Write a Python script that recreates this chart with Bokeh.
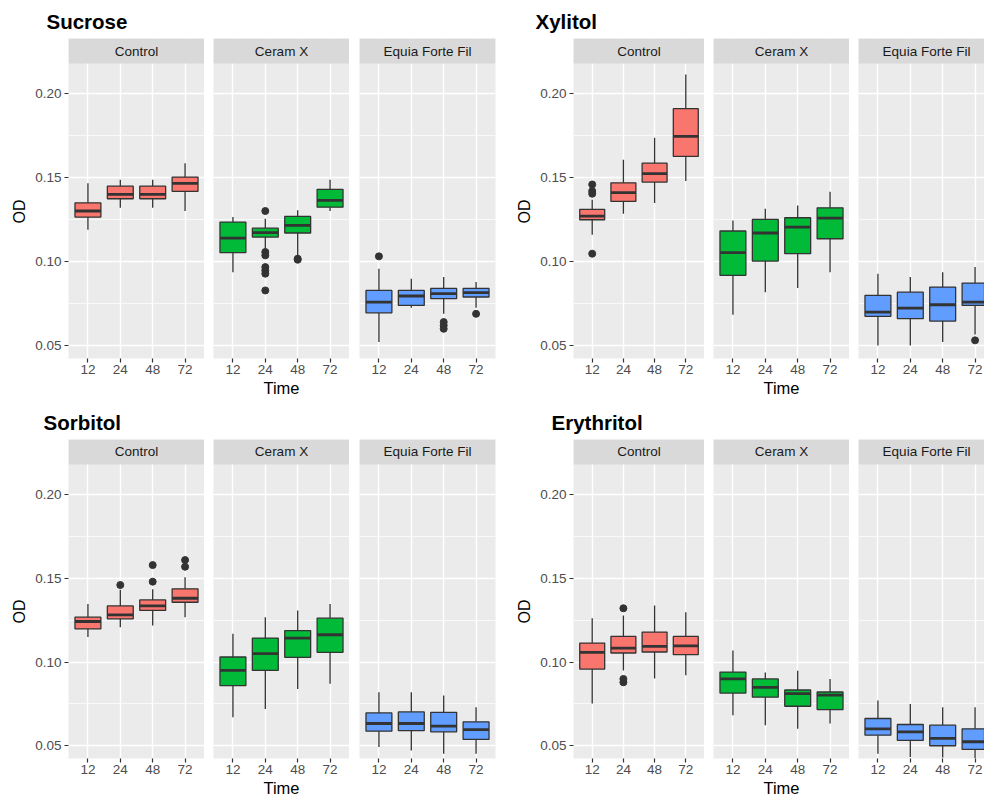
import math
from bokeh.plotting import figure
from bokeh.layouts import row, column
from bokeh.models import Range1d, FixedTicker, Label, NumeralTickFormatter, Title
from bokeh.embed import file_html
from bokeh.resources import INLINE

# ---------------- data ----------------
times = ["12", "24", "48", "72"]
materials = ["Control", "Ceram X", "Equia Forte Fil"]
material_colors = ["#F8766D", "#00BA38", "#619CFF"]
y_ticks = [0.05, 0.10, 0.15, 0.20]
y_minor_ticks = [0.075, 0.125, 0.175]
sugars = ["Sucrose", "Xylitol", "Sorbitol", "Erythritol"]

# box statistics, material-major order: Control x4, Ceram X x4, Equia Forte Fil x4
sucrose_lower = [0.1190, 0.1321, 0.1321, 0.1302, 0.0938, 0.1077, 0.1028, 0.1302, 0.0522, 0.0726, 0.0690, 0.0726]
sucrose_q1 = [0.1266, 0.1375, 0.1375, 0.1419, 0.1054, 0.1147, 0.1171, 0.1325, 0.0696, 0.0740, 0.0780, 0.0790]
sucrose_median = [0.1302, 0.1401, 0.1401, 0.1466, 0.1141, 0.1173, 0.1216, 0.1365, 0.0760, 0.0796, 0.0810, 0.0816]
sucrose_q3 = [0.1351, 0.1450, 0.1450, 0.1504, 0.1236, 0.1200, 0.1270, 0.1431, 0.0829, 0.0829, 0.0841, 0.0841]
sucrose_upper = [0.1468, 0.1488, 0.1488, 0.1587, 0.1266, 0.1256, 0.1306, 0.1488, 0.0958, 0.0899, 0.0909, 0.0879]
sucrose_out_material = [1, 1, 1, 1, 1, 1, 1, 1, 1, 2, 2, 2, 2, 2]
sucrose_out_time = [1, 1, 1, 1, 1, 1, 1, 2, 2, 0, 2, 2, 2, 3]
sucrose_out_value = [0.1302, 0.1058, 0.1038, 0.0968, 0.0948, 0.0929, 0.0829, 0.1018, 0.1012, 0.1032, 0.0641, 0.0621, 0.0601, 0.0690]

xylitol_lower = [0.1161, 0.1286, 0.1349, 0.1480, 0.0685, 0.0819, 0.0843, 0.0938, 0.0502, 0.0502, 0.0522, 0.0567]
xylitol_q1 = [0.1250, 0.1359, 0.1474, 0.1627, 0.0919, 0.1004, 0.1048, 0.1137, 0.0675, 0.0661, 0.0647, 0.0740]
xylitol_median = [0.1272, 0.1411, 0.1524, 0.1746, 0.1054, 0.1171, 0.1206, 0.1260, 0.0700, 0.0724, 0.0744, 0.0760]
xylitol_q3 = [0.1312, 0.1470, 0.1587, 0.1911, 0.1183, 0.1252, 0.1262, 0.1321, 0.0800, 0.0819, 0.0849, 0.0873]
xylitol_upper = [0.1369, 0.1607, 0.1738, 0.2115, 0.1246, 0.1315, 0.1335, 0.1417, 0.0929, 0.0909, 0.0938, 0.0968]
xylitol_out_material = [0, 0, 0, 0, 2]
xylitol_out_time = [0, 0, 0, 0, 3]
xylitol_out_value = [0.1460, 0.1421, 0.1405, 0.1048, 0.0532]

sorbitol_lower = [0.1149, 0.1208, 0.1218, 0.1268, 0.0671, 0.0720, 0.0839, 0.0871, 0.0492, 0.0472, 0.0452, 0.0452]
sorbitol_q1 = [0.1198, 0.1258, 0.1308, 0.1357, 0.0859, 0.0950, 0.1028, 0.1058, 0.0587, 0.0591, 0.0583, 0.0538]
sorbitol_median = [0.1242, 0.1282, 0.1335, 0.1381, 0.0950, 0.1050, 0.1143, 0.1163, 0.0633, 0.0633, 0.0617, 0.0597]
sorbitol_q3 = [0.1268, 0.1335, 0.1371, 0.1437, 0.1030, 0.1143, 0.1188, 0.1262, 0.0696, 0.0702, 0.0700, 0.0643]
sorbitol_upper = [0.1347, 0.1431, 0.1435, 0.1506, 0.1169, 0.1268, 0.1308, 0.1347, 0.0819, 0.0819, 0.0800, 0.0730]
sorbitol_out_material = [0, 0, 0, 0, 0]
sorbitol_out_time = [1, 2, 2, 3, 3]
sorbitol_out_value = [0.1460, 0.1579, 0.1480, 0.1609, 0.1569]

erythritol_lower = [0.0752, 0.0950, 0.0901, 0.0921, 0.0683, 0.0623, 0.0601, 0.0633, 0.0452, 0.0433, 0.0430, 0.0425]
erythritol_q1 = [0.0958, 0.1054, 0.1060, 0.1044, 0.0815, 0.0790, 0.0736, 0.0716, 0.0563, 0.0532, 0.0500, 0.0478]
erythritol_median = [0.1058, 0.1083, 0.1093, 0.1097, 0.0899, 0.0849, 0.0812, 0.0802, 0.0601, 0.0583, 0.0544, 0.0524]
erythritol_q3 = [0.1113, 0.1153, 0.1179, 0.1153, 0.0940, 0.0899, 0.0833, 0.0821, 0.0663, 0.0627, 0.0623, 0.0601]
erythritol_upper = [0.1262, 0.1278, 0.1337, 0.1298, 0.1069, 0.0938, 0.0948, 0.0899, 0.0770, 0.0750, 0.0730, 0.0730]
erythritol_out_material = [0, 0, 0]
erythritol_out_time = [1, 1, 1]
erythritol_out_value = [0.1321, 0.0899, 0.0879]

# ---------------- style / layout ----------------
FONT = "Liberation Sans"
PANEL_BG = "#EBEBEB"
STRIP_BG = "#D9D9D9"
DARK = "#333333"
Y_START, Y_PANEL_END, Y_END = 0.0424, 0.2180, 0.2329
X_START, X_SPAN, FULL_W = 0.4, 4.2, 136
FRAME_H = 320
BOX_W = 0.8
SMALL = "13.5px"


def facet(stats, outs, mi, left, right, frame_w, top, bottom, title=None, title_offset=0, middle=False):
    lower, q1, med, q3, upper = stats
    out_m, out_t, out_v = outs
    x_end = X_START + X_SPAN * frame_w / FULL_W
    p = figure(width=left + frame_w + right, height=top + FRAME_H + bottom,
               x_range=Range1d(X_START, x_end), y_range=Range1d(Y_START, Y_END),
               output_backend="svg", toolbar_location=None,
               min_border_left=left, min_border_right=right,
               min_border_top=top, min_border_bottom=bottom,
               background_fill_color=PANEL_BG, border_fill_color="white",
               outline_line_color=None)
    sl = slice(mi * 4, mi * 4 + 4)
    xs = [i + 1 for i in range(len(times))]
    lo, a, m, b, hi = lower[sl], q1[sl], med[sl], q3[sl], upper[sl]
    color = material_colors[mi]

    # strip
    p.quad(left=X_START, right=x_end, bottom=Y_PANEL_END, top=Y_END,
           fill_color=STRIP_BG, line_color=None)
    p.add_layout(Label(x=X_START + X_SPAN / 2, y=(Y_PANEL_END + Y_END) / 2,
                       text=materials[mi], text_align="center", text_baseline="middle",
                       text_font=FONT, text_font_size=SMALL, text_color="#1A1A1A"))

    # boxes
    p.segment(x0=xs, y0=b, x1=xs, y1=hi, line_color=DARK, line_width=1.3)
    p.segment(x0=xs, y0=lo, x1=xs, y1=a, line_color=DARK, line_width=1.3)
    p.vbar(x=xs, width=BOX_W, bottom=a, top=b, fill_color=color,
           line_color=DARK, line_width=1.3)
    p.segment(x0=[x - BOX_W / 2 for x in xs], y0=m, x1=[x + BOX_W / 2 for x in xs], y1=m,
              line_color=DARK, line_width=2.8)
    ox = [t + 1 for mm, t in zip(out_m, out_t) if mm == mi]
    oy = [v for mm, v in zip(out_m, out_v) if mm == mi]
    if ox:
        p.scatter(x=ox, y=oy, size=7, fill_color=DARK, line_color=DARK)

    # grids
    p.xgrid.ticker = FixedTicker(ticks=xs)
    p.xgrid.grid_line_color = "white"
    p.xgrid.grid_line_width = 1.4
    p.ygrid.ticker = FixedTicker(ticks=y_ticks, minor_ticks=y_minor_ticks)
    p.ygrid.grid_line_color = "white"
    p.ygrid.grid_line_width = 1.4
    p.ygrid.minor_grid_line_color = "white"
    p.ygrid.minor_grid_line_width = 0.7

    # x axis
    xa = p.xaxis[0]
    xa.ticker = FixedTicker(ticks=xs)
    xa.major_label_overrides = {x: t for x, t in zip(xs, times)}
    xa.axis_line_color = None
    xa.major_tick_line_color = DARK
    xa.major_tick_line_width = 1.2
    xa.major_tick_out = 4
    xa.major_tick_in = 0
    xa.minor_tick_line_color = None
    xa.major_label_standoff = 2
    xa.major_label_text_font = FONT
    xa.major_label_text_font_size = SMALL
    xa.major_label_text_color = "#4D4D4D"
    if middle:
        xa.axis_label = "Time"
        xa.axis_label_standoff = 2
        xa.axis_label_text_font = FONT
        xa.axis_label_text_font_size = "16.5px"
        xa.axis_label_text_font_style = "normal"
        xa.axis_label_text_color = "black"

    # y axis
    ya = p.yaxis[0]
    if title is not None:
        ya.ticker = FixedTicker(ticks=y_ticks)
        ya.formatter = NumeralTickFormatter(format="0.00")
        ya.axis_line_color = None
        ya.major_tick_line_color = DARK
        ya.major_tick_line_width = 1.2
        ya.major_tick_out = 4
        ya.major_tick_in = 0
        ya.minor_tick_line_color = None
        ya.major_label_standoff = 3
        ya.major_label_text_font = FONT
        ya.major_label_text_font_size = SMALL
        ya.major_label_text_color = "#4D4D4D"
        p.add_layout(Title(text="OD", align="left", offset=135, standoff=10,
                           text_font=FONT, text_font_size="16px",
                           text_font_style="normal", text_color="black"), "left")
        p.title.text = title
        p.title.align = "left"
        p.title.offset = title_offset
        p.title.standoff = 12
        p.title.text_font = FONT
        p.title.text_font_size = "20.5px"
        p.title.text_font_style = "bold"
        p.title.text_color = "black"
    else:
        ya.visible = False
    return p


def panel(name, stats, outs, title_offset, left, top, bottom, right_after, last_w):
    f1 = facet(stats, outs, 0, left, 0, 136, top, bottom, title=name, title_offset=title_offset)
    f2 = facet(stats, outs, 1, 9, 0, 136, top, bottom, middle=True)
    f3 = facet(stats, outs, 2, 10 if right_after else 9, right_after, last_w, top, bottom)
    return [f1, f2, f3]


A = panel("Sucrose", (sucrose_lower, sucrose_q1, sucrose_median, sucrose_q3, sucrose_upper),
          (sucrose_out_material, sucrose_out_time, sucrose_out_value), -22, 68, 38, 44, 13, 136)
B = panel("Xylitol", (xylitol_lower, xylitol_q1, xylitol_median, xylitol_q3, xylitol_upper),
          (xylitol_out_material, xylitol_out_time, xylitol_out_value), -38, 60, 38, 44, 0, 126)
C = panel("Sorbitol", (sorbitol_lower, sorbitol_q1, sorbitol_median, sorbitol_q3, sorbitol_upper),
          (sorbitol_out_material, sorbitol_out_time, sorbitol_out_value), -25, 68, 37, 40, 13, 136)
D = panel("Erythritol", (erythritol_lower, erythritol_q1, erythritol_median, erythritol_q3, erythritol_upper),
          (erythritol_out_material, erythritol_out_time, erythritol_out_value), -22, 60, 37, 40, 0, 126)

layout = column(row(*A, *B), row(*C, *D))

open("out.html", "w").write(file_html(layout, INLINE))
